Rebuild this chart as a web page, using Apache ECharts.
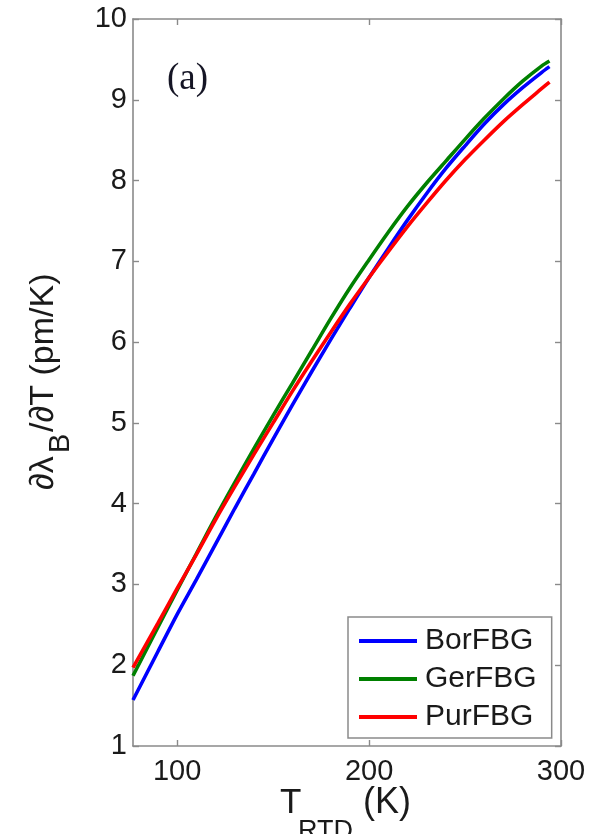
<!DOCTYPE html>
<html>
<head>
<meta charset="utf-8">
<style>
  html, body { margin: 0; padding: 0; background: #fff; }
  #chart { width: 615px; height: 834px; }
</style>
<script src="https://cdn.jsdelivr.net/npm/echarts@6/dist/echarts.min.js"></script>
</head>
<body>
<div id="chart"></div>
<script>
// Temperature sensitivity of the Bragg wavelength vs RTD temperature
const temperatureK = [77, 90, 100, 110, 120, 130, 140, 150, 160, 170, 180, 190, 200,
                      210, 220, 230, 240, 250, 260, 270, 280, 290, 294];
const borFBG = [1.57, 2.17, 2.63, 3.06, 3.50, 3.94, 4.37, 4.80, 5.22, 5.63, 6.03, 6.42, 6.80,
                7.16, 7.51, 7.84, 8.15, 8.43, 8.70, 8.94, 9.15, 9.34, 9.41];
const gerFBG = [1.87, 2.47, 2.93, 3.38, 3.83, 4.26, 4.68, 5.09, 5.49, 5.89, 6.29, 6.67, 7.02,
                7.36, 7.68, 7.97, 8.24, 8.51, 8.77, 9.01, 9.23, 9.42, 9.48];
const purFBG = [1.97, 2.52, 2.95, 3.37, 3.80, 4.21, 4.61, 5.00, 5.39, 5.76, 6.12, 6.47, 6.80,
                7.12, 7.43, 7.72, 8.00, 8.26, 8.50, 8.73, 8.94, 9.14, 9.22];
const seriesNames = ['BorFBG', 'GerFBG', 'PurFBG'];
const seriesColors = ['#0000ff', '#008000', '#ff0000'];
const xTickValues = [100, 200, 300];

const FONT = '"Liberation Sans", Arial, Helvetica, sans-serif';
const AXIS_GREY = '#8a8a8a';
const TEXT = '#1a1a1a';

function pairs(ys) {
  return temperatureK.map((t, i) => [t, ys[i]]);
}

function txt(x, y, s, size) {
  return {
    type: 'text', x: x, y: y, silent: true,
    style: { text: s, fontFamily: FONT, fontSize: size, fill: TEXT,
             textAlign: 'left', textVerticalAlign: 'middle' }
  };
}

const chart = echarts.init(document.getElementById('chart'), null, { renderer: 'canvas' });

const frameAxis = {
  axisLine: { show: true, onZero: false, lineStyle: { color: AXIS_GREY, width: 1.6 } },
  axisTick: { show: true, inside: true, length: 6, lineStyle: { color: AXIS_GREY, width: 1.4 } },
  splitLine: { show: false }
};

chart.setOption({
  animation: false,
  backgroundColor: '#fff',
  title: {
    text: '(a)',
    left: 167,
    top: 61,
    padding: 0,
    textStyle: { fontFamily: '"Liberation Serif", "Times New Roman", serif', fontSize: 37,
                 fontWeight: 'normal', color: '#151525' }
  },
  graphic: [
    // x-axis title: T with subscript RTD, then unit
    {
      type: 'group',
      children: [
        txt(280, 803, 'T', 35),
        txt(298, 832, 'RTD', 27),
        txt(363, 803, '(K)', 36)
      ]
    },
    // y-axis title, read bottom to top
    {
      type: 'group',
      x: 44,
      y: 490,
      rotation: Math.PI / 2,
      children: [
        txt(0, 0, '\u2202\u03bb', 34),
        txt(37, 17, 'B', 29),
        txt(58, 0, '/\u2202T (pm/K)', 34)
      ]
    }
  ],
  grid: { left: 133, right: 54, top: 19, bottom: 88, containLabel: false, outerBoundsMode: 'none' },
  legend: {
    orient: 'vertical',
    left: 348,
    top: 617,
    data: seriesNames,
    icon: 'rect',
    itemWidth: 58,
    itemHeight: 4,
    itemGap: 8,
    padding: [9, 15, 6, 11],
    borderColor: '#8a8a8a',
    borderWidth: 1.5,
    backgroundColor: '#fff',
    textStyle: { fontFamily: FONT, fontSize: 30, color: TEXT, padding: [0, 0, 0, 3] }
  },
  xAxis: [
    Object.assign({}, frameAxis, {
      type: 'value',
      min: 77,
      max: 300,
      position: 'bottom',
      axisTick: Object.assign({}, frameAxis.axisTick, { customValues: xTickValues }),
      axisLabel: { show: true, customValues: xTickValues, margin: 11,
                   fontFamily: FONT, fontSize: 29, color: TEXT }
    }),
    Object.assign({}, frameAxis, {
      type: 'value',
      min: 77,
      max: 300,
      position: 'top',
      axisTick: Object.assign({}, frameAxis.axisTick, { customValues: xTickValues }),
      axisLabel: { show: false }
    })
  ],
  yAxis: [
    Object.assign({}, frameAxis, {
      type: 'value',
      min: 1,
      max: 10,
      interval: 1,
      position: 'left',
      axisLabel: { show: true, margin: 6, fontFamily: FONT, fontSize: 29, color: TEXT }
    }),
    Object.assign({}, frameAxis, {
      type: 'value',
      min: 1,
      max: 10,
      interval: 1,
      position: 'right',
      axisLabel: { show: false }
    })
  ],
  series: seriesNames.map((name, i) => ({
    name: name,
    type: 'line',
    xAxisIndex: 0,
    yAxisIndex: 0,
    smooth: 0.3,
    symbol: 'none',
    data: pairs([borFBG, gerFBG, purFBG][i]),
    lineStyle: { color: seriesColors[i], width: 3.6 },
    itemStyle: { color: seriesColors[i] },
    z: 3 + i
  }))
});
</script>
</body>
</html>
